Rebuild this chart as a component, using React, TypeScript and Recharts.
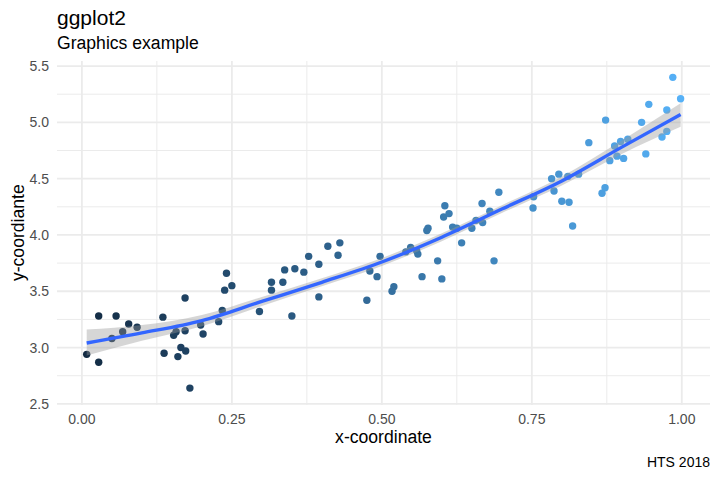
import React from "react";
import {
  ComposedChart,
  Scatter,
  Line,
  Area,
  XAxis,
  YAxis,
  ReferenceLine,
  Cell,
} from "recharts";

// ---- data ----
const pointX = [
  0.008, 0.028, 0.028, 0.05, 0.057, 0.068, 0.078, 0.092, 0.135, 0.137,
  0.153, 0.157, 0.16, 0.165, 0.172, 0.172, 0.173, 0.18, 0.198, 0.202,
  0.228, 0.234, 0.238, 0.241, 0.25, 0.296, 0.316, 0.316, 0.335, 0.338,
  0.35, 0.355, 0.37, 0.378, 0.395, 0.395, 0.41, 0.427, 0.43, 0.475,
  0.48, 0.492, 0.497, 0.517, 0.52, 0.54, 0.548, 0.558, 0.56, 0.567,
  0.575, 0.577, 0.593, 0.6, 0.603, 0.605, 0.612, 0.618, 0.625, 0.633,
  0.65, 0.657, 0.667, 0.668, 0.68, 0.687, 0.695, 0.752, 0.753, 0.783,
  0.787, 0.795, 0.8, 0.81, 0.812, 0.818, 0.828, 0.845, 0.867, 0.872,
  0.873, 0.88, 0.888, 0.892, 0.898, 0.903, 0.91, 0.933, 0.94, 0.945,
  0.967, 0.975, 0.975, 0.985, 0.998,
];
const pointY = [
  2.94, 3.28, 2.87, 3.08, 3.28, 3.14, 3.21, 3.18, 3.27, 2.95,
  3.11, 3.14, 2.92, 3.0, 3.44, 3.15, 2.97, 2.64, 3.2, 3.12,
  3.23, 3.33, 3.51, 3.66, 3.55, 3.32, 3.58, 3.51, 3.58, 3.69,
  3.28, 3.7, 3.67, 3.81, 3.45, 3.74, 3.9, 3.82, 3.93, 3.42,
  3.68, 3.63, 3.81, 3.5, 3.54, 3.85, 3.89, 3.86, 3.83, 3.63,
  4.04, 4.06, 3.77, 3.61, 4.16, 4.26, 4.19, 4.07, 4.06, 3.93,
  4.06, 4.13, 4.28, 4.11, 4.21, 3.77, 4.38, 4.24, 4.34, 4.5,
  4.39, 4.54, 4.3, 4.52, 4.29, 4.08, 4.54, 4.82, 4.37, 4.42,
  5.02, 4.66, 4.79, 4.7, 4.83, 4.68, 4.85, 5.0, 4.72, 5.16,
  4.87, 4.92, 5.11, 5.4, 5.21,
];

const smoothX = [0.008, 0.1, 0.2, 0.3, 0.4, 0.5, 0.6, 0.7, 0.8, 0.9, 0.998];
const smoothFit = [3.04, 3.13, 3.24, 3.41, 3.58, 3.76, 3.98, 4.23, 4.48, 4.78, 5.07];
const smoothLow = [2.93, 3.06, 3.19, 3.37, 3.545, 3.725, 3.945, 4.195, 4.44, 4.72, 4.96];
const smoothHigh = [3.16, 3.2, 3.29, 3.45, 3.615, 3.795, 4.015, 4.265, 4.52, 4.84, 5.17];

const xTicks = [0, 0.25, 0.5, 0.75, 1];
const xMinor = [0.125, 0.375, 0.625, 0.875];
const yTicks = [2.5, 3, 3.5, 4, 4.5, 5, 5.5];
const yMinor = [2.75, 3.25, 3.75, 4.25, 4.75, 5.25];

const titleText = "ggplot2";
const subtitleText = "Graphics example";
const xLabel = "x-coordinate";
const yLabel = "y-coordiante";
const captionText = "HTS 2018";

// ---- derived tables ----
const points = pointX.map((x, i) => ({ x, y: pointY[i] }));
const smooth = smoothX.map((x, i) => ({
  x,
  fit: smoothFit[i],
  band: [smoothLow[i], smoothHigh[i]],
}));

const lowCol = [0x13, 0x2b, 0x43];
const highCol = [0x56, 0xb1, 0xf7];
const xMin = Math.min(...pointX);
const xMax = Math.max(...pointX);
function gradient(v: number): string {
  const t = (v - xMin) / (xMax - xMin);
  const c = lowCol.map((l, k) => Math.round(l + (highCol[k] - l) * t));
  return `rgb(${c[0]},${c[1]},${c[2]})`;
}

const FONT = "'Liberation Sans', Arial, Helvetica, sans-serif";
const GRID = "#EBEBEB";

export default function App() {
  return (
    <div
      style={{
        position: "absolute",
        left: 0,
        top: 0,
        width: 720,
        height: 480,
        background: "#ffffff",
        fontFamily: FONT,
      }}
    >
      <ComposedChart
        width={720}
        height={480}
        data={smooth}
        margin={{ top: 61, right: 10, bottom: 45, left: 0 }}
      >
        <XAxis
          dataKey="x"
          type="number"
          domain={[-0.0415, 1.047]}
          allowDataOverflow
          ticks={xTicks}
          tickFormatter={(v: number) => v.toFixed(2)}
          axisLine={false}
          tickLine={false}
          height={30}
          tickMargin={3}
          tick={{ fill: "#4D4D4D", fontSize: 14, fontFamily: FONT }}
          interval={0}
        />
        <YAxis
          type="number"
          domain={[2.49, 5.545]}
          allowDataOverflow
          ticks={yTicks}
          tickFormatter={(v: number) => v.toFixed(1)}
          axisLine={false}
          tickLine={false}
          width={57}
          tick={{ fill: "#4D4D4D", fontSize: 14, fontFamily: FONT }}
          interval={0}
        />
        {yMinor.map((v) => (
          <ReferenceLine key={"ym" + v} y={v} stroke={GRID} strokeWidth={1} zIndex={-10} />
        ))}
        {xMinor.map((v) => (
          <ReferenceLine key={"xm" + v} x={v} stroke={GRID} strokeWidth={1} zIndex={-10} />
        ))}
        {yTicks.map((v) => (
          <ReferenceLine key={"yM" + v} y={v} stroke={GRID} strokeWidth={1.8} zIndex={-10} />
        ))}
        {xTicks.map((v) => (
          <ReferenceLine key={"xM" + v} x={v} stroke={GRID} strokeWidth={1.8} zIndex={-10} />
        ))}
        <Scatter
          data={points}
          dataKey="y"
          isAnimationActive={false}
          zIndex={10}
          shape={(p: any) => <circle cx={p.cx} cy={p.cy} r={3.7} fill={p.fill} />}
        >
          {points.map((pt, i) => (
            <Cell key={i} fill={gradient(pt.x)} />
          ))}
        </Scatter>
        <Area
          dataKey="band"
          type="monotone"
          fill="#999999"
          fillOpacity={0.4}
          stroke="none"
          isAnimationActive={false}
          activeDot={false}
          dot={false}
          zIndex={20}
        />
        <Line
          dataKey="fit"
          type="monotone"
          stroke="#3366FF"
          strokeWidth={3.4}
          dot={false}
          activeDot={false}
          isAnimationActive={false}
          zIndex={30}
        />
      </ComposedChart>
      <svg
        width={720}
        height={480}
        style={{ position: "absolute", left: 0, top: 0, pointerEvents: "none" }}
      >
        <text x={57} y={25} fontSize={21} fill="#000" fontFamily={FONT}>
          {titleText}
        </text>
        <text x={57} y={49} fontSize={17.6} fill="#000" fontFamily={FONT}>
          {subtitleText}
        </text>
        <text
          x={383.5}
          y={443.3}
          fontSize={17.6}
          fill="#000"
          fontFamily={FONT}
          textAnchor="middle"
        >
          {xLabel}
        </text>
        <text
          x={0}
          y={0}
          fontSize={17.6}
          fill="#000"
          fontFamily={FONT}
          textAnchor="middle"
          transform="translate(23.5,232.7) rotate(-90)"
        >
          {yLabel}
        </text>
        <text
          x={710}
          y={467}
          fontSize={14}
          fill="#000"
          fontFamily={FONT}
          textAnchor="end"
        >
          {captionText}
        </text>
      </svg>
    </div>
  );
}
